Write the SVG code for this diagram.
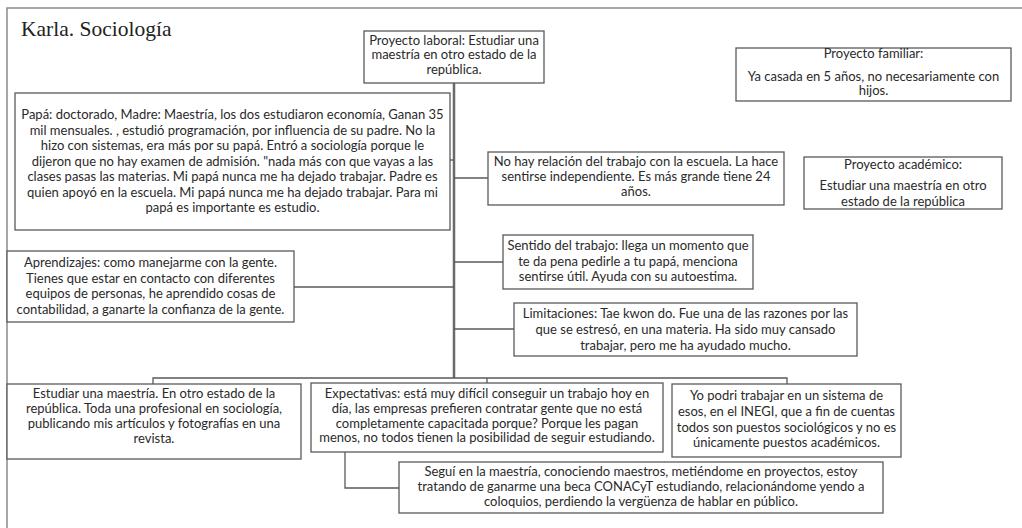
<svg xmlns="http://www.w3.org/2000/svg" width="1022" height="528" viewBox="0 0 1022 528">
<style>
.bg{fill:#fff}
.frame{fill:none;stroke:#8a8a8a;stroke-width:1.5}
.box{fill:#fff;stroke:#5a5a5a;stroke-width:1.3}
.t{font-family:Lato,"Open Sans",sans-serif;font-size:13px;fill:#2a2a2a;text-anchor:middle}
.title{font-family:"Liberation Serif",serif;font-size:21.5px;fill:#222}
.c{fill:none;stroke:#5a5a5a;stroke-width:1.3}
.trunk{fill:none;stroke:#6a6a6a;stroke-width:2.5}
</style>
<rect class="bg" width="1022" height="528"/>
<path class="frame" d="M1024,8 H7 V530"/>
<text class="title" x="21" y="36">Karla. Sociología</text>

<g id="connectors">
<path class="trunk" d="M454,83 V378"/>
<path class="c" d="M450,160 H454"/>
<path class="c" d="M454,178 H488"/>
<path class="c" d="M294,287 H454"/>
<path class="c" d="M454,262 H503"/>
<path class="c" d="M454,329 H514"/>
<path class="c" d="M153,384 V378 H787 V384"/>
<path class="c" d="M487,378 V383"/>
<path class="c" d="M345,452 V488 H399"/>
</g>

<g id="laboral">
<rect class="box" x="364" y="31" width="180" height="52"/>
<text class="t" x="454" y="45">Proyecto laboral: Estudiar una</text>
<text class="t" x="454" y="59">maestría en otro estado de la</text>
<text class="t" x="454" y="73.5">república.</text>
</g>

<g id="papa">
<rect class="box" x="15" y="93" width="435" height="137"/>
<text class="t" x="232.5" y="119">Papá: doctorado, Madre: Maestría, los dos estudiaron economía, Ganan 35</text>
<text class="t" x="232.5" y="134.5">mil mensuales. , estudió programación, por influencia de su padre. No la</text>
<text class="t" x="232.5" y="150">hizo con sistemas, era más por su papá. Entró a sociología porque le</text>
<text class="t" x="232.5" y="165.5">dijeron que no hay examen de admisión. "nada más con que vayas a las</text>
<text class="t" x="232.5" y="181">clases pasas las materias. Mi papá nunca me ha dejado trabajar. Padre es</text>
<text class="t" x="232.5" y="196.5">quien apoyó en la escuela. Mi papá nunca me ha dejado trabajar. Para mi</text>
<text class="t" x="232.5" y="212">papá es importante es estudio.</text>
</g>

<g id="familiar">
<rect class="box" x="736" y="48" width="275" height="53"/>
<text class="t" x="873.5" y="58">Proyecto familiar:</text>
<text class="t" x="873.5" y="80.5">Ya casada en 5 años, no necesariamente con</text>
<text class="t" x="873.5" y="94.5">hijos.</text>
</g>

<g id="nohay">
<rect class="box" x="488" y="152" width="296" height="53"/>
<text class="t" x="636" y="166">No hay relación del trabajo con la escuela. La hace</text>
<text class="t" x="636" y="181">sentirse independiente. Es más grande tiene 24</text>
<text class="t" x="636" y="196">años.</text>
</g>

<g id="academico">
<rect class="box" x="804" y="157" width="198" height="52"/>
<text class="t" x="903" y="169">Proyecto académico:</text>
<text class="t" x="903" y="190">Estudiar una maestría en otro</text>
<text class="t" x="903" y="206">estado de la república</text>
</g>

<g id="sentido">
<rect class="box" x="503" y="235" width="250" height="54"/>
<text class="t" x="628" y="250">Sentido del trabajo: llega un momento que</text>
<text class="t" x="628" y="266">te da pena pedirle a tu papá, menciona</text>
<text class="t" x="628" y="281">sentirse útil. Ayuda con su autoestima.</text>
</g>

<g id="limitaciones">
<rect class="box" x="514" y="303" width="343" height="53"/>
<text class="t" x="685.5" y="318">Limitaciones: Tae kwon do. Fue una de las razones por las</text>
<text class="t" x="685.5" y="334">que se estresó, en una materia. Ha sido muy cansado</text>
<text class="t" x="685.5" y="350">trabajar, pero me ha ayudado mucho.</text>
</g>

<g id="aprendizajes">
<rect class="box" x="7" y="251" width="287" height="71"/>
<text class="t" x="150.5" y="267">Aprendizajes: como manejarme con la gente.</text>
<text class="t" x="150.5" y="283">Tienes que estar en contacto  con diferentes</text>
<text class="t" x="150.5" y="298">equipos de personas, he aprendido cosas de</text>
<text class="t" x="150.5" y="314">contabilidad, a ganarte la confianza de la gente.</text>
</g>

<g id="estudiar">
<rect class="box" x="7" y="384" width="294" height="75"/>
<text class="t" x="154" y="398">Estudiar una maestría. En otro estado de la</text>
<text class="t" x="154" y="413">república. Toda una profesional en sociología,</text>
<text class="t" x="154" y="428">publicando mis artículos y fotografías en una</text>
<text class="t" x="154" y="443">revista.</text>
</g>

<g id="expectativas">
<rect class="box" x="311" y="383" width="352" height="69"/>
<text class="t" x="487" y="398">Expectativas: está muy difícil conseguir un trabajo hoy en</text>
<text class="t" x="487" y="413">día, las empresas prefieren contratar gente que no está</text>
<text class="t" x="487" y="428">completamente capacitada porque? Porque les pagan</text>
<text class="t" x="487" y="442">menos, no todos tienen la posibilidad de seguir estudiando.</text>
</g>

<g id="inegi">
<rect class="box" x="672" y="384" width="229" height="73"/>
<text class="t" x="786.5" y="400">Yo podri trabajar en un sistema de</text>
<text class="t" x="786.5" y="416">esos, en el INEGI, que a fin de cuentas</text>
<text class="t" x="786.5" y="432">todos son puestos sociológicos y no es</text>
<text class="t" x="786.5" y="447">únicamente puestos académicos.</text>
</g>

<g id="segui">
<rect class="box" x="399" y="462" width="484" height="51"/>
<text class="t" x="641" y="476">Seguí en la maestría, conociendo maestros, metiéndome en proyectos, estoy</text>
<text class="t" x="641" y="491">tratando de ganarme una beca CONACyT estudiando, relacionándome yendo a</text>
<text class="t" x="641" y="506">coloquios, perdiendo la vergüenza de hablar en público.</text>
</g>
</svg>
